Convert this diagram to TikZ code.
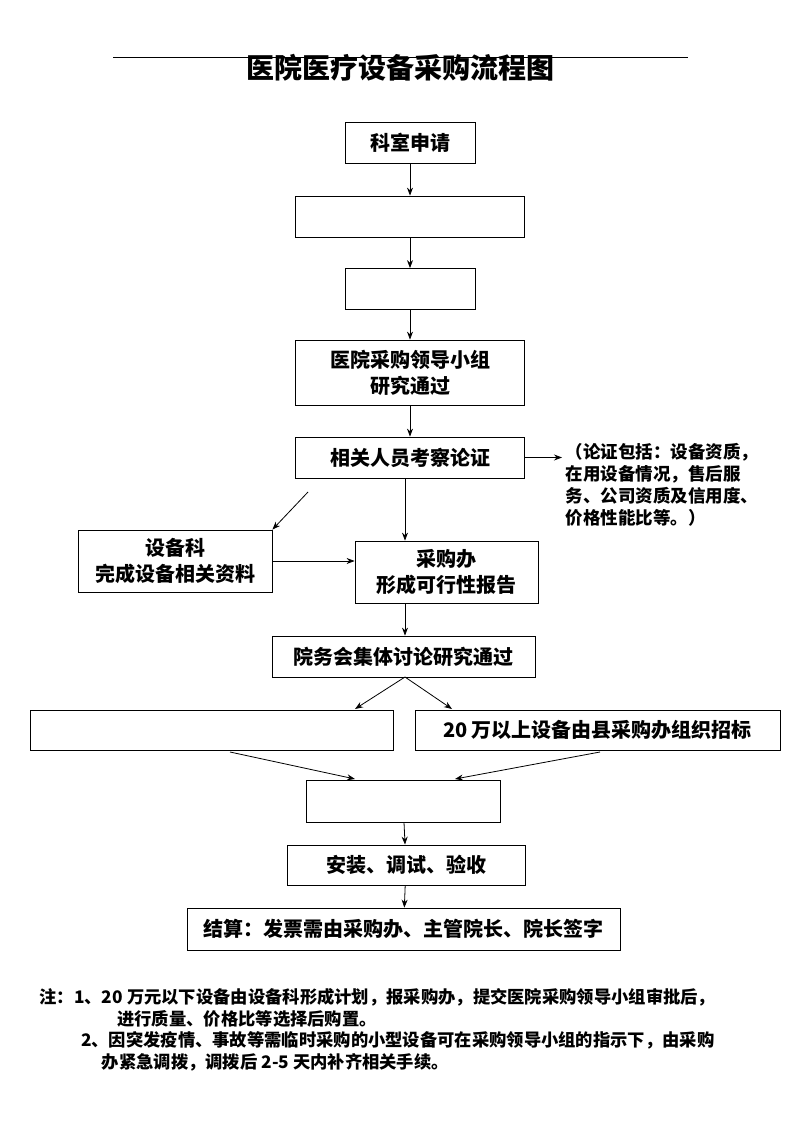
\documentclass[tikz,border=0pt]{standalone}
\usepackage{fontspec}
\usetikzlibrary{arrows.meta}
\setmainfont{Noto Sans CJK SC}
\begin{document}
\begin{tikzpicture}[x=1pt,y=-1pt,
 box/.style={draw,thick,minimum height=41pt,font=\fontsize{20}{26}\selectfont\bfseries,align=center,inner sep=2pt},
 arr/.style={-{Stealth[length=8pt,width=6pt]},thick}]
\useasboundingbox (0,0) rectangle (800,1131);
\draw (113,57) -- (688,57);
\node[font=\fontsize{28}{30}\selectfont\bfseries] (title) at (400,68) {医院医疗设备采购流程图};
\node[box,minimum width=130pt] (a) at (410,142.5) {科室申请};
\node[box,minimum width=229pt] (b) at (410,216.5) {};
\node[box,minimum width=130pt] (c) at (410,289) {};
\node[box,minimum width=229pt,minimum height=65pt] (d) at (410,372.5) {医院采购领导小组\\研究通过};
\node[box,minimum width=229pt] (e) at (410,457.5) {相关人员考察论证};
\node[font=\fontsize{17.5}{22}\selectfont\bfseries,align=left,anchor=north west] (n) at (562,440) {（论证包括：设备资质，\\在用设备情况，售后服\\务、公司资质及信用度、\\价格性能比等。）};
\node[box,minimum width=194pt,minimum height=62pt] (f) at (175,561) {设备科\\完成设备相关资料};
\node[box,minimum width=183pt,minimum height=62pt] (g) at (446.5,572) {采购办\\形成可行性报告};
\node[box,minimum width=263pt] (h) at (403.5,656.5) {院务会集体讨论研究通过};
\node[box,minimum width=363pt,minimum height=40pt] (i) at (211.5,730) {};
\node[box,minimum width=365pt,minimum height=40pt] (j) at (597.5,730) {20 万以上设备由县采购办组织招标};
\node[box,minimum width=194pt,minimum height=42pt] (k) at (403,801) {};
\node[box,minimum width=238pt,minimum height=40pt] (l) at (406,865) {安装、调试、验收};
\node[box,minimum width=433pt,minimum height=42pt] (m) at (403.5,929) {结算：发票需由采购办、主管院长、院长签字};
\draw[arr] (a) -- (b);
\draw[arr] (b) -- (c);
\draw[arr] (c) -- (d);
\draw[arr] (d) -- (e);
\draw[arr] (e.east) -- (n.west |- e.east);
\draw[arr] (e.south -| 405,0) -- (g.north -| 405,0);
\draw[arr] (308,492) -- (f.north east);
\draw[arr] (f.east) -- (g.west |- f.east);
\draw[arr] (g.south -| 405,0) -- (h.north -| 405,0);
\coordinate (hs) at (405,677);
\draw[arr] (hs) -- (355,709);
\draw[arr] (hs) -- (452,709);
\draw[arr] (230,752) -- (355,779);
\draw[arr] (600,752) -- (455,779);
\draw[arr] (k) -- (l);
\draw[arr] (l) -- (m);
\node[font=\fontsize{17.3}{21.5}\selectfont\bfseries,align=left,anchor=north west] (notes) at (36,985) {注：1、20 万元以下设备由设备科形成计划，报采购办，提交医院采购领导小组审批后，\\\hspace{4.5em}进行质量、价格比等选择后购置。\\\hspace{2.4em}2、因突发疫情、事故等需临时采购的小型设备可在采购领导小组的指示下，由采购\\\hspace{3.6em}办紧急调拨，调拨后 2-5 天内补齐相关手续。};
\end{tikzpicture}
\end{document}
